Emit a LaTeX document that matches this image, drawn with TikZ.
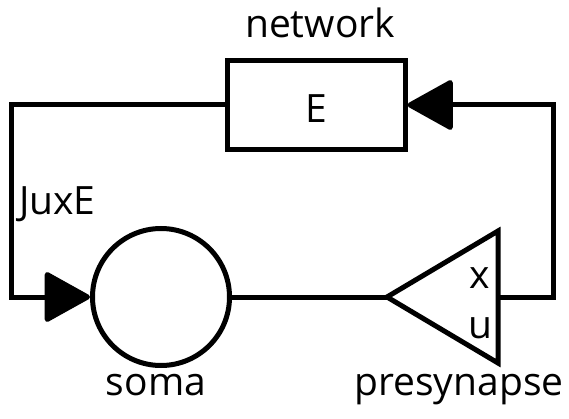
\documentclass[tikz,border=0pt]{standalone}
\usepackage{fontspec}
\setmainfont{Open Sans}
\usetikzlibrary{arrows.meta}
\begin{document}
\begin{tikzpicture}[x=1pt,y=-1pt,
  wire/.style={line width=5pt,line join=miter},
  feed/.style={wire,-{Triangle[length=48pt,width=52pt,round]}},
  block/.style={draw,line width=5pt,minimum width=178pt,minimum height=89pt,inner sep=0pt},
  cell/.style={draw,circle,line width=5pt,minimum size=137pt,inner sep=0pt},
  lbl/.style={font=\fontsize{39}{45}\selectfont,inner sep=0pt,anchor=base}]
\useasboundingbox (0,0) rectangle (569,419);

% blocks
\node[block] (net) at (316,105) {};
\node[cell] (soma) at (161,297) {};

% presynaptic triangle, apex pointing left
\coordinate (tip) at (387,297);
\coordinate (ttop) at (498,231);
\coordinate (tbot) at (498,363);
\coordinate (tout) at (498,297);
\draw[wire] (tip) -- (ttop) -- (tbot) -- cycle;

% connections
\draw[wire] (soma.east) -- (tip);
\draw[feed] (net.west) -- +(-213,0) |- (soma.west);
\draw[feed] (tout) -- +(55,0) |- (net.east);

% labels
\node[lbl] (netlbl) at (320,38) {network};
\node[lbl] (elbl) at (316,123) {E};
\node[lbl,anchor=base west] (juxe) at (19,215) {JuxE};
\node[lbl] (xlbl) at (480,288) {x};
\node[lbl] (ulbl) at (480,338) {u};
\node[lbl] (somalbl) at (156,395) {soma};
\node[lbl] (prelbl) at (459,395) {presynapse};
\end{tikzpicture}
\end{document}
